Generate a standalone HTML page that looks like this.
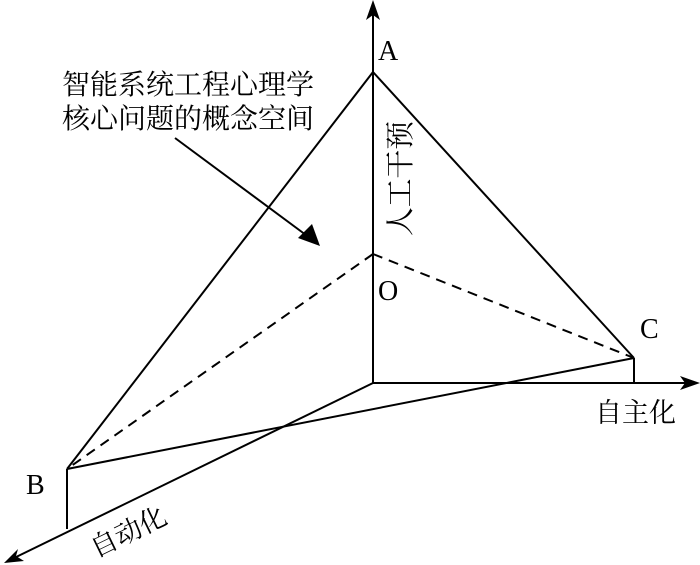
<!DOCTYPE html>
<html><head><meta charset="utf-8"><style>
html,body{margin:0;padding:0;background:#fff;}
svg{display:block;}
text{font-family:"Liberation Serif","Noto Serif CJK SC","Noto Sans CJK SC",serif;fill:#000;}
</style></head><body>
<svg width="700" height="565" viewBox="0 0 700 565" xmlns="http://www.w3.org/2000/svg">
<g stroke="#000" stroke-width="2" fill="none">
<line x1="373" y1="383" x2="373" y2="10"/>
<line x1="373" y1="383" x2="690" y2="383"/>
<line x1="373" y1="383" x2="12" y2="559"/>
<line x1="373" y1="72" x2="67" y2="469"/>
<line x1="373" y1="72" x2="634" y2="358"/>
<line x1="67" y1="469" x2="634" y2="358"/>
<line x1="67" y1="469" x2="67" y2="529"/>
<line x1="634" y1="358" x2="634" y2="383"/>
<line x1="373" y1="254" x2="67" y2="469" stroke-dasharray="10,7"/>
<line x1="373" y1="254" x2="634" y2="358" stroke-dasharray="10,7"/>
<line x1="175" y1="138" x2="310" y2="238"/>
</g>
<path d="M373,0 L380,20 L373,15 L366,20 Z" fill="#000"/>
<path d="M700,383 L680,376 L685,383 L680,390 Z" fill="#000"/>
<path d="M4,563 L18,549 L16,556 L24,561 Z" fill="#000"/>
<path d="M320,246 L298,238 L312,224 Z" fill="#000"/>
<text x="378" y="60" font-size="28">A</text>
<text x="378" y="300" font-size="28">O</text>
<text x="640" y="338" font-size="28">C</text>
<text x="26" y="494" font-size="28">B</text>
<text x="62" y="94" font-size="28" font-family="Liberation Sans, Noto Sans CJK SC, sans-serif">智能系统工程心理学</text>
<text x="62" y="128" font-size="28" font-family="Liberation Sans, Noto Sans CJK SC, sans-serif">核心问题的概念空间</text>
<text transform="translate(410,236) rotate(-90)" font-size="29" textLength="115" lengthAdjust="spacingAndGlyphs" font-family="Liberation Sans, Noto Sans CJK SC, sans-serif">人工干预</text>
<text x="595" y="422" font-size="27" font-family="Liberation Sans, Noto Sans CJK SC, sans-serif">自主化</text>
<text transform="translate(96,558) rotate(-26)" font-size="27" font-family="Liberation Sans, Noto Sans CJK SC, sans-serif">自动化</text>
</svg>
</body></html>
